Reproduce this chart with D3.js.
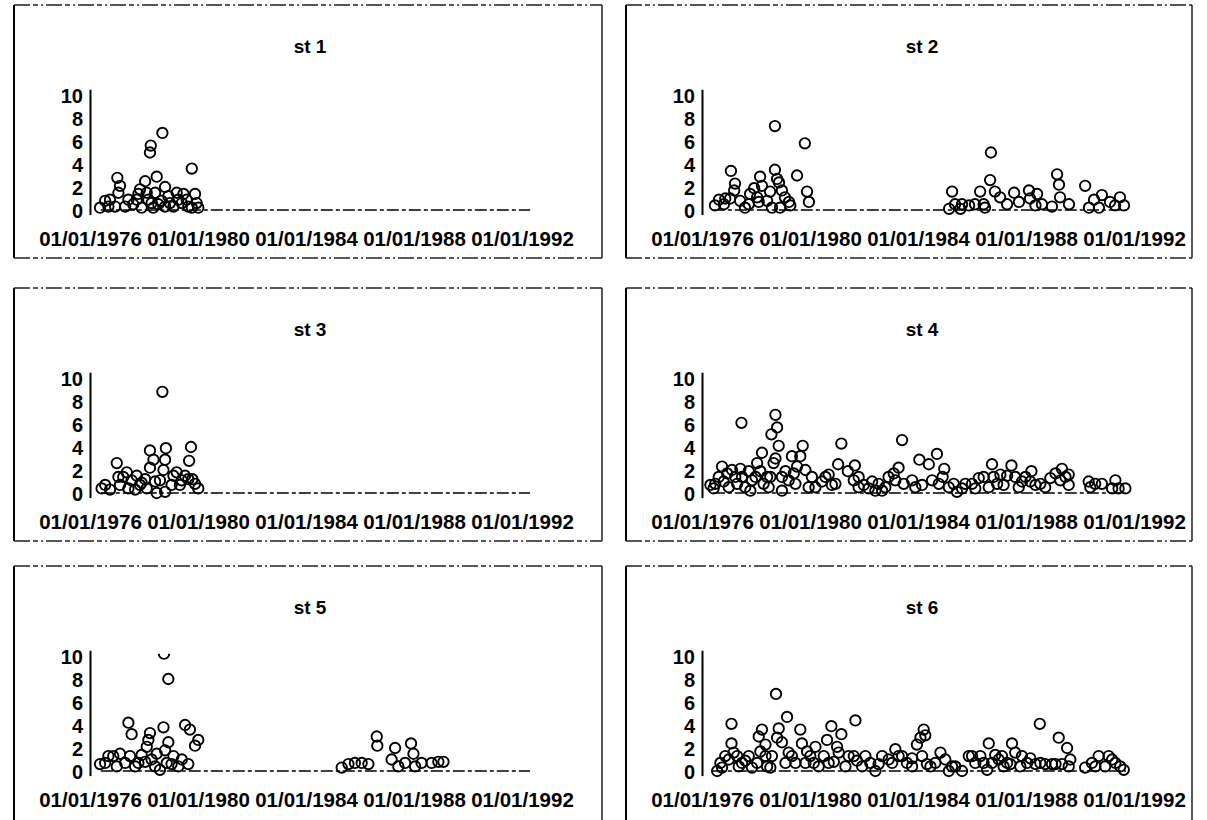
<!DOCTYPE html>
<html>
<head>
<meta charset="utf-8">
<script src="https://cdn.jsdelivr.net/npm/d3@7"></script>
<style>
  body { margin: 0; background: #fff; }
  svg { display: block; }
  .lbl { font-family: "Liberation Sans", Arial, Helvetica, sans-serif; font-weight: bold; fill: #000; }
</style>
</head>
<body>
<svg id="chart" width="1207" height="820"></svg>
<script>
// station titles
var titles = ["st 1", "st 2", "st 3", "st 4", "st 5", "st 6"];
var yTicks = [0, 2, 4, 6, 8, 10];
var xTickYears = [1976, 1980, 1984, 1988, 1992];

// [decimal year, value]
var st1 = [[1978.68,6.7],[1978.25,5.6],[1978.22,5.0],[1979.77,3.6],[1978.47,2.9],[1977.01,2.8],[1977.11,2.1],
  [1978.04,2.5],[1978.78,2.0],[1977.05,1.5],[1977.85,1.8],[1978.10,1.5],[1978.41,1.5],[1978.90,1.2],[1979.21,1.5],
  [1979.46,1.4],[1979.89,1.4],[1978.16,0.9],[1978.65,0.8],[1977.73,0.9],[1976.56,0.8],[1976.37,0.2],[1976.68,0.3],
  [1976.93,0.3],[1977.30,0.3],[1977.60,0.5],[1977.91,0.2],[1978.34,0.2],[1978.78,0.3],[1979.09,0.3],[1979.40,0.6],
  [1979.64,0.3],[1979.95,0.6],[1980.01,0.2],[1976.74,0.9],[1977.42,0.9],[1977.79,1.4],[1978.28,0.6],[1978.53,0.5],
  [1978.96,0.6],[1979.27,0.9],[1979.58,0.9],[1979.77,0.2]];

var st2 = [[1977.07,3.4],[1977.22,2.3],[1977.19,1.7],[1976.63,0.9],[1976.48,0.4],[1976.81,0.5],[1977.04,1.0],
  [1977.41,0.8],[1977.59,0.2],[1977.78,1.4],[1977.93,1.9],[1978.15,2.9],[1978.22,2.1],[1978.04,1.1],[1978.41,0.8],
  [1978.52,1.6],[1978.70,3.5],[1978.78,2.7],[1978.85,2.4],[1978.96,1.7],[1978.59,0.2],[1978.89,0.2],[1979.07,1.1],
  [1979.22,0.7],[1978.70,7.3],[1979.52,3.0],[1979.81,5.8],[1979.89,1.6],[1979.96,0.7],[1977.73,0.5],[1976.86,1.0],
  [1978.10,0.7],[1979.27,0.4],
  [1985.26,1.6],[1985.15,0.1],[1985.37,0.5],[1985.63,0.5],[1985.89,0.4],[1986.11,0.5],[1986.30,1.6],[1986.48,0.2],
  [1986.67,2.6],[1986.70,5.0],[1986.85,1.6],[1987.04,1.1],[1987.30,0.5],[1987.56,1.5],[1987.74,0.7],[1988.11,1.7],
  [1988.15,1.0],[1988.41,1.4],[1988.59,0.5],[1989.15,3.1],[1989.22,2.2],[1989.26,1.1],[1988.96,0.3],[1989.59,0.5],
  [1990.19,2.1],[1990.33,0.2],[1990.52,0.9],[1990.81,1.3],[1991.11,0.7],[1991.30,0.4],[1991.48,1.1],[1991.63,0.4],
  [1985.57,0.1],[1986.43,0.5],[1988.35,0.4],[1990.70,0.2]];

var st3 = [[1978.68,8.8],[1978.22,3.7],[1978.81,3.9],[1979.74,4.0],[1979.67,2.8],[1976.99,2.6],[1978.35,2.9],
  [1978.78,2.9],[1978.22,2.2],[1978.72,2.0],[1977.36,1.8],[1977.73,1.5],[1979.21,1.8],[1979.52,1.5],[1979.79,1.2],
  [1978.04,1.2],[1978.41,1.0],[1977.05,1.4],[1976.56,0.7],[1976.74,0.3],[1977.11,0.7],[1977.42,0.4],[1977.67,0.3],
  [1977.85,0.7],[1978.47,0.0],[1978.78,0.1],[1979.02,0.7],[1979.33,0.7],[1979.64,1.2],[1980.01,0.4],[1976.43,0.4],
  [1978.10,0.4],[1977.23,1.4],[1977.54,1.1],[1977.91,0.9],[1978.59,1.1],[1979.09,1.5],[1979.40,1.1],[1979.89,0.8]];

var st4 = [[1977.46,6.1],[1978.72,6.8],[1978.78,5.7],[1978.57,5.1],[1978.84,4.1],[1978.22,3.5],[1978.72,3.0],
  [1978.65,2.6],[1979.73,4.1],[1979.64,3.2],[1979.33,3.2],[1979.52,2.3],[1979.09,1.9],[1978.16,1.9],[1978.04,2.6],
  [1978.53,1.4],[1976.74,2.3],[1977.11,2.0],[1977.42,2.1],[1976.49,0.8],[1976.80,1.0],[1977.23,1.4],[1977.60,0.5],
  [1977.85,1.1],[1978.28,0.8],[1978.96,0.2],[1979.21,1.1],[1980.07,1.4],[1980.44,1.0],[1980.69,1.6],[1981.16,4.3],
  [1981.04,2.5],[1981.40,1.9],[1981.66,2.4],[1981.62,1.1],[1981.99,0.7],[1982.17,0.4],[1982.54,0.8],[1982.67,0.2],
  [1982.91,1.4],[1983.28,2.2],[1983.41,4.6],[1983.10,1.7],[1983.47,0.8],[1983.78,1.1],[1984.05,2.9],[1984.15,0.7],
  [1984.40,2.5],[1984.70,3.4],[1984.97,2.1],[1984.91,1.4],[1985.14,0.5],[1985.44,0.1],[1985.75,0.8],[1986.00,0.8],
  [1986.25,1.3],[1986.43,1.4],[1986.74,2.5],[1986.93,0.8],[1987.05,1.6],[1987.17,0.7],[1987.30,1.5],[1987.46,2.4],
  [1987.60,1.4],[1987.85,1.0],[1988.20,1.9],[1988.16,1.0],[1988.53,0.8],[1988.71,0.5],[1988.90,1.3],[1989.09,1.7],
  [1989.33,2.1],[1989.58,1.6],[1989.58,0.7],[1990.32,1.0],[1990.56,0.8],[1990.81,0.8],[1991.31,1.1],[1991.68,0.4],
  [1991.19,0.4],[1980.20,0.5],[1980.81,0.7],[1981.80,1.4],[1982.42,0.2],[1976.43,0.4],[1976.99,0.5],[1977.79,0.2],
  [1976.31,0.7],[1976.62,1.4],[1976.93,1.7],[1977.30,0.8],[1977.48,1.4],[1977.73,1.9],[1977.98,1.4],[1978.41,1.4],
  [1978.47,0.5],[1978.96,1.4],[1979.40,1.7],[1979.46,0.8],[1979.83,2.0],[1979.95,0.5],[1980.57,1.4],[1980.94,0.8],
  [1981.80,0.5],[1982.30,1.0],[1982.79,0.5],[1983.16,1.1],[1983.90,0.5],[1984.52,1.1],[1984.77,0.8],[1985.32,0.8],
  [1985.63,0.4],[1986.12,0.4],[1986.62,0.5],[1986.80,1.4],[1987.73,0.5],[1987.98,1.4],[1988.35,0.7],[1989.27,1.1],
  [1989.46,1.4],[1990.38,0.5],[1991.43,0.4]];

var st5 = [[1978.90,8.0],[1978.74,10.2],[1977.42,4.2],[1977.54,3.2],[1978.22,3.3],[1978.16,2.7],[1978.72,3.8],
  [1979.52,4.0],[1979.70,3.6],[1980.01,2.7],[1979.89,2.2],[1978.90,2.5],[1978.10,2.1],[1978.78,1.8],[1978.47,1.5],
  [1977.91,1.4],[1977.11,1.5],[1976.86,1.3],[1976.56,0.7],[1976.37,0.6],[1976.99,0.4],[1977.30,0.7],[1977.67,0.4],
  [1978.04,0.8],[1978.28,1.0],[1978.59,0.1],[1979.02,0.6],[1979.27,0.4],[1979.64,0.6],[1979.09,1.3],[1976.68,1.3],
  [1977.48,1.3],[1977.79,0.7],[1978.41,0.4],[1978.84,0.7],[1979.40,1.0],
  [1985.32,0.3],[1985.57,0.6],[1985.81,0.7],[1986.06,0.7],[1986.31,0.6],[1986.62,3.0],[1986.64,2.2],[1987.17,1.0],
  [1987.30,2.0],[1987.42,0.4],[1987.67,0.7],[1987.89,2.4],[1987.98,1.5],[1988.04,0.4],[1988.28,0.7],[1988.65,0.7],
  [1988.90,0.8],[1989.09,0.8]];

var st6 = [[1977.09,4.1],[1977.09,2.4],[1977.17,1.6],[1976.56,0.0],[1976.68,0.7],[1976.86,1.3],[1977.36,0.4],
  [1977.60,0.9],[1977.85,0.3],[1978.74,6.7],[1979.15,4.7],[1978.84,3.7],[1978.22,3.6],[1978.10,3.0],[1978.96,2.5],
  [1978.78,2.9],[1978.35,2.3],[1978.16,1.7],[1978.59,1.3],[1979.21,1.6],[1979.46,0.7],[1978.53,0.3],[1979.64,3.6],
  [1979.70,2.4],[1979.89,1.7],[1980.20,2.1],[1980.01,1.3],[1980.32,0.4],[1980.63,2.7],[1980.79,3.9],[1981.16,3.2],
  [1981.68,4.4],[1981.00,2.1],[1981.06,1.6],[1980.88,0.8],[1981.43,1.3],[1981.74,0.9],[1982.05,1.3],[1982.42,0.0],
  [1982.54,0.6],[1982.91,1.0],[1983.16,1.9],[1983.41,1.3],[1983.78,1.1],[1983.78,0.4],[1983.96,2.3],[1984.09,2.9],
  [1984.27,3.1],[1984.21,3.6],[1984.33,0.6],[1984.64,0.7],[1984.83,1.6],[1985.14,0.0],[1985.38,0.4],[1985.63,0.0],
  [1985.88,1.3],[1986.12,0.7],[1986.43,0.7],[1986.62,2.4],[1986.56,0.1],[1986.86,1.4],[1986.99,1.0],[1987.17,0.4],
  [1987.48,2.4],[1987.42,0.6],[1987.60,1.6],[1987.79,0.4],[1988.16,1.1],[1988.35,0.6],[1988.51,4.1],[1988.71,0.6],
  [1988.96,0.6],[1989.21,2.9],[1989.52,2.0],[1989.64,1.0],[1989.33,0.6],[1990.19,0.3],[1990.44,0.7],[1990.69,1.3],
  [1990.93,0.4],[1991.19,1.0],[1991.31,0.7],[1991.62,0.1],
  [1976.74,0.3],[1976.99,1.0],[1977.30,1.3],[1977.48,0.7],[1977.73,1.3],[1978.04,0.7],[1978.35,1.3],[1978.41,0.4],
  [1979.09,0.7],[1979.33,1.3],[1979.83,0.7],[1980.14,0.7],[1980.51,1.3],[1980.69,0.7],[1981.31,0.4],[1981.62,1.3],
  [1981.93,0.4],[1982.23,0.7],[1982.67,1.3],[1983.04,0.7],[1983.28,1.3],[1983.59,0.7],[1984.15,1.3],[1984.46,0.4],
  [1985.01,1.0],[1985.26,0.4],[1986.00,1.3],[1986.31,1.3],[1986.74,0.7],[1987.11,1.3],[1987.30,0.7],[1987.85,1.3],
  [1988.04,0.7],[1988.53,0.7],[1989.09,0.6],[1989.58,0.4],[1990.57,0.4],[1991.06,1.3],[1991.49,0.4]];

// observation period drawn as the zero line
var spans = [[1976.4, 1992.3], [1976.4, 1991.7], [1976.4, 1992.3], [1976.4, 1991.7], [1976.4, 1992.3], [1976.4, 1991.7]];

var series = [st1, st2, st3, st4, st5, st6];

var svg = d3.select("#chart");
var colLeft = [14, 626], colRight = [602, 1192];
var rowTop = [5, 288, 566], rowBottom = [258, 541, 830];

function toDate(yr) {
  var y = Math.floor(yr);
  var start = new Date(y, 0, 1), end = new Date(y + 1, 0, 1);
  return new Date(start.getTime() + (yr - y) * (end - start));
}

series.forEach(function(data, i) {
  var col = i % 2, row = Math.floor(i / 2);
  var left = colLeft[col], right = colRight[col], top = rowTop[row], bottom = rowBottom[row];
  var g = svg.append("g");

  // panel frame: solid sides, broken top/bottom like the scan
  g.append("line").attr("x1", left).attr("x2", left).attr("y1", top).attr("y2", bottom)
    .attr("stroke", "#000").attr("stroke-width", 2);
  g.append("line").attr("x1", right).attr("x2", right).attr("y1", top).attr("y2", bottom)
    .attr("stroke", "#111").attr("stroke-width", 1.4);
  [top, bottom].forEach(function(yy) {
    g.append("line").attr("x1", left).attr("x2", right).attr("y1", yy).attr("y2", yy)
      .attr("stroke", "#222").attr("stroke-width", 1.3).attr("stroke-dasharray", "16,3,5,3,2,3");
  });

  var axisX = left + 76;
  var x = d3.scaleTime()
    .domain([new Date(1976, 0, 1), new Date(1992, 0, 1)])
    .range([axisX, axisX + 16 * 27]);
  var base = top + 205;
  var y = d3.scaleLinear().domain([0, 10]).range([base, base - 115]);

  g.append("text").attr("class", "lbl")
    .attr("x", left + 296).attr("y", top + 48)
    .attr("text-anchor", "middle").style("font-size", "19px")
    .text(titles[i]);

  // y axis: vertical line with labels only
  var yAx = y.copy().domain([-0.4, 10.5]).range([y(-0.4), y(10.5)]);
  var ya = g.append("g").attr("transform", "translate(" + axisX + ",0)")
    .call(d3.axisLeft(yAx).tickValues(yTicks).tickSize(0).tickPadding(7));
  ya.select(".domain").attr("stroke", "#000").attr("stroke-width", 2);
  ya.selectAll("text").attr("class", "lbl").style("font-size", "20px").attr("dy", "0.36em");

  // x axis labels only
  var xa = g.append("g").attr("transform", "translate(0," + (top + 234) + ")")
    .call(d3.axisBottom(x).tickValues(xTickYears.map(function(yr) { return new Date(yr, 0, 1); }))
      .tickFormat(d3.timeFormat("%m/%d/%Y")).tickSize(0).tickPadding(0));
  xa.select(".domain").remove();
  xa.selectAll("text").attr("class", "lbl").style("font-size", "20.5px").attr("dy", "0.36em");

  // zero line
  g.append("line")
    .attr("x1", x(toDate(spans[i][0]))).attr("x2", x(toDate(spans[i][1])))
    .attr("y1", y(0)).attr("y2", y(0))
    .attr("stroke", "#000").attr("stroke-width", 1.5).attr("stroke-dasharray", "12,3,4,3");

  var clipId = "clip" + i;
  svg.append("clipPath").attr("id", clipId).append("rect")
    .attr("x", axisX).attr("y", y(10.2)).attr("width", right - axisX).attr("height", bottom - y(10.2));

  g.append("g").attr("clip-path", "url(#" + clipId + ")")
    .selectAll("circle").data(data).enter().append("circle")
    .attr("cx", function(d) { return x(toDate(d[0])); })
    .attr("cy", function(d) { return y(d[1]); })
    .attr("r", 5.2)
    .attr("fill", "none")
    .attr("stroke", "#000")
    .attr("stroke-width", 1.9);
});
</script>
</body>
</html>
